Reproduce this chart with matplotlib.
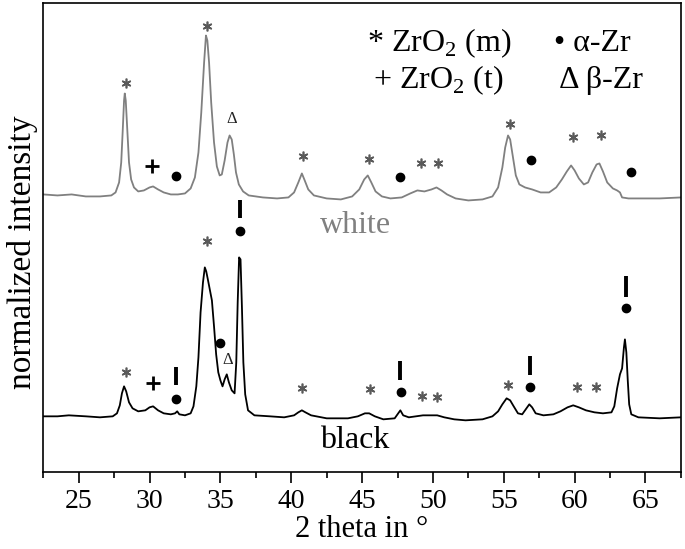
import matplotlib as mpl
mpl.use('Agg')
import matplotlib.pyplot as plt

plt.rcParams['font.family'] = ['Liberation Serif', 'DejaVu Serif']
plt.rcParams['mathtext.fontset'] = 'custom'
plt.rcParams['mathtext.rm'] = 'Liberation Serif'

# ---- white sample pattern (2theta, intensity) ----
white_x = [22.5, 23.5, 24.5, 25.5, 26.5, 27.3, 27.6, 27.85, 28.0, 28.1, 28.2, 28.25,
           28.32, 28.42, 28.55, 28.7, 28.9, 29.2, 29.6, 30.0, 30.25, 30.6, 31.0, 31.5,
           32.0, 32.5, 32.9, 33.2, 33.45, 33.65, 33.85, 33.98, 34.08, 34.2, 34.35, 34.55,
           34.75, 34.95, 35.1, 35.3, 35.5, 35.65, 35.8, 35.95, 36.1, 36.3, 36.6, 37.0,
           38.0, 39.0, 39.8, 40.2, 40.5, 40.75, 40.95, 41.2, 41.6, 42.5, 43.5, 44.3,
           44.8, 45.15, 45.4, 45.65, 45.95, 46.4, 47.0, 47.8, 48.4, 48.9, 49.4, 49.9,
           50.25, 50.6, 51.0, 51.6, 52.5, 53.5, 54.2, 54.6, 54.9, 55.1, 55.3, 55.45,
           55.65, 55.85, 56.1, 56.5, 57.0, 57.6, 58.2, 58.7, 59.1, 59.45, 59.75, 60.0,
           60.3, 60.65, 60.95, 61.25, 61.55, 61.75, 62.0, 62.3, 62.7, 63.0, 63.2, 63.35,
           63.8, 65.0, 66.0, 67.5]
white_y = [278, 277, 278, 276, 276, 277, 280, 290, 310, 340, 372, 379,
           372, 345, 310, 293, 285, 281, 282, 285, 286, 283, 280, 278,
           278, 279, 284, 295, 320, 360, 410, 437, 432, 410, 370, 330,
           306, 297, 298, 312, 330, 337, 333, 318, 300, 288, 281, 277,
           275, 274, 275, 280, 290, 299, 292, 283, 277, 274, 273, 276,
           283, 293, 297, 290, 281, 276, 274, 275, 279, 282, 281, 283,
           285, 282, 278, 274, 272, 273, 276, 285, 305, 325, 337, 333,
           315, 297, 288, 285, 283, 280, 280, 285, 293, 301, 307, 302,
           294, 288, 290, 300, 308, 309, 301, 290, 284, 282, 280, 275,
           274, 274, 274, 275]

# ---- black sample pattern ----
black_x = [22.5, 23.5, 24.3, 25.5, 26.5, 27.4, 27.7, 27.9, 28.05, 28.2, 28.35, 28.55,
           28.8, 29.2, 29.7, 30.0, 30.25, 30.6, 31.0, 31.5, 31.8, 31.95, 32.1, 32.5,
           32.9, 33.1, 33.3, 33.45, 33.6, 33.77, 33.9, 34.0, 34.1, 34.25, 34.4, 34.55,
           34.7, 34.85, 35.0, 35.15, 35.3, 35.45, 35.6, 35.8, 36.0, 36.12, 36.22, 36.32,
           36.42, 36.52, 36.62, 36.75, 36.95, 37.4, 38.5, 39.5, 40.2, 40.5, 40.75, 41.0,
           41.4, 42.5, 44.0, 44.7, 45.2, 45.5, 45.9, 46.5, 47.3, 47.55, 47.7, 47.9,
           48.3, 48.8, 49.3, 49.8, 50.3, 50.8, 51.5, 52.3, 53.5, 54.2, 54.6, 54.9,
           55.2, 55.45, 55.7, 56.0, 56.3, 56.6, 56.8, 57.0, 57.25, 57.8, 58.5, 59.0,
           59.5, 59.9, 60.3, 60.8, 61.4, 62.0, 62.6, 62.8, 63.0, 63.2, 63.35, 63.48,
           63.55, 63.65, 63.75, 63.85, 64.0, 64.5, 66.0, 67.5]
black_y = [56, 56, 57, 56, 55, 56, 59, 67, 79, 86, 81, 70,
           64, 61, 62, 65, 66, 62, 59, 58, 59, 61, 58, 57,
           59, 66, 86, 115, 160, 190, 205, 201, 194, 183, 172, 146,
           118, 100, 92, 86, 93, 98, 90, 82, 79, 110, 170, 215,
           213, 165, 110, 78, 62, 57, 56, 55, 57, 60, 62, 60,
           57, 54, 54, 56, 59, 59, 56, 53, 54, 59, 62, 57,
           55, 56, 57, 57, 57, 55, 53, 52, 53, 56, 61, 68,
           74, 72, 66, 59, 58, 64, 68, 65, 59, 57, 58, 61,
           65, 67, 65, 62, 60, 59, 60, 66, 84, 98, 104, 125,
           133, 120, 92, 68, 58, 55, 54, 55]

# ---- peak annotations ----
w_star_x = [28.32, 34.08, 40.81, 45.47, 49.17, 50.37, 55.44, 59.88, 61.87]
w_star_y = [389, 447, 316, 313, 309, 309, 348, 335, 337]
w_dot_x = [31.89, 47.69, 56.91, 64.0]
w_dot_y = [296, 295, 312, 300]
w_plus = (30.2, 306)
w_delta = (35.77, 353)

b_star_x = [28.32, 34.08, 40.77, 45.57, 49.25, 50.3, 55.28, 60.18, 61.54]
b_star_y = [100.6, 231.6, 84, 83, 76, 75, 87, 85, 85]
b_dot_x = [31.89, 36.4, 34.99, 47.72, 56.87, 63.61]
b_dot_y = [73, 241.6, 129.6, 80.5, 85.3, 164.3]
b_plus = (30.25, 89)
b_delta = (35.53, 112)
bar_x = [31.89, 36.4, 47.65, 56.87, 63.62]
bar_lo = [87.3, 254.3, 92.3, 97.3, 175.8]
bar_hi = [105.6, 272.3, 111.3, 116.3, 196.3]

fig = plt.figure(figsize=(6.85, 5.49), dpi=100)
ax = fig.add_axes([0.0632, 0.1397, 0.9308, 0.8557])

ax.plot(white_x, white_y, color='#808080', lw=1.3)
ax.plot(black_x, black_y, color='black', lw=1.3)

star_col = '#5a5a5a'
ax.plot(w_star_x, w_star_y, ls='none', marker=(6, 2, 0), ms=7, mew=1.2, color=star_col)
ax.plot(b_star_x, b_star_y, ls='none', marker=(6, 2, 0), ms=7, mew=1.2, color=star_col)
ax.plot(w_dot_x, w_dot_y, ls='none', marker='o', ms=6, color='black')
ax.plot(b_dot_x, b_dot_y, ls='none', marker='o', ms=6, color='black')
ax.plot([w_plus[0], b_plus[0]], [w_plus[1], b_plus[1]], ls='none', marker='+',
        ms=10, mew=2, color='black')
ax.vlines(bar_x, bar_lo, bar_hi, color='black', lw=2.8)
for d in (w_delta, b_delta):
    ax.text(d[0], d[1], 'Δ', fontsize=12, ha='center', va='center', color='#222222')

# legend text
ax.text(45.37, 421.7, '* ZrO$_2$ (m)', fontsize=23, va='baseline')
ax.text(45.76, 384, '+ ZrO$_2$ (t)', fontsize=23, va='baseline')
ax.text(58.52, 421.7, '• α-Zr', fontsize=23, va='baseline')
ax.text(58.87, 384, 'Δ β-Zr', fontsize=23, va='baseline')

ax.text(42.04, 239, 'white', fontsize=23, color='#808080', va='baseline')
ax.text(42.04, 24, 'black', fontsize=23, color='black', va='baseline')

ax.set_xlim(22.5, 67.5)
ax.set_ylim(0, 470)
ax.set_yticks([])
ax.set_xticks([25, 30, 35, 40, 45, 50, 55, 60, 65])
ax.set_xticks([22.5 + 2.5 * i for i in range(19)], minor=True)
ax.tick_params(axis='x', which='major', direction='out', length=8, width=1.2, labelsize=20, pad=4)
ax.tick_params(axis='x', which='minor', direction='out', length=4.5, width=1.2)
for s in ax.spines.values():
    s.set_linewidth(1.2)
ax.set_xlabel('2 theta in °', fontsize=22, labelpad=1)
ax.set_ylabel('normalized intensity', fontsize=24)
ax.yaxis.set_label_coords(-0.009, 0.469)

fig.savefig('out.png', dpi=100)
